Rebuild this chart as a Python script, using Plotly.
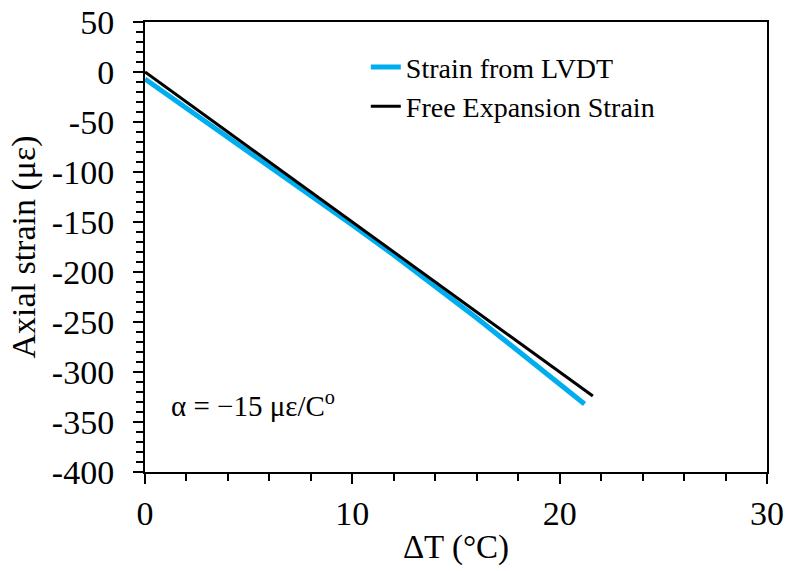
import plotly.graph_objects as go

# Strain from LVDT
lvdt_dT = [0, 2, 4, 6, 8, 10, 12, 14, 16, 18, 20, 21.2]
lvdt_strain = [-7, -36, -65, -94, -123, -153, -183, -214, -246, -279, -312, -332]

# Free expansion strain
free_dT = [0, 21.6]
free_strain = [0, -324]

x_ticks = [0, 10, 20, 30]
y_ticks = [50, 0, -50, -100, -150, -200, -250, -300, -350, -400]

FONT = "Liberation Serif"

fig = go.Figure()
fig.add_trace(go.Scatter(x=lvdt_dT, y=lvdt_strain, mode="lines",
                         name="Strain from LVDT",
                         line=dict(color="#00AEEF", width=5)))
fig.add_trace(go.Scatter(x=free_dT, y=free_strain, mode="lines",
                         name="Free Expansion Strain",
                         line=dict(color="black", width=3)))

fig.update_layout(
    width=787, height=571,
    margin=dict(l=145, r=20, t=22, b=99, autoexpand=False),
    paper_bgcolor="white", plot_bgcolor="white",
    font=dict(family=FONT, color="black", size=28),
    showlegend=True,
    legend=dict(x=0.355, y=0.955, xanchor="left", yanchor="top",
                bgcolor="rgba(0,0,0,0)", font=dict(family=FONT, size=28),
                itemwidth=30, tracegroupgap=0),
    annotations=[dict(x=1.15, y=-332, xref="x", yref="y", xanchor="left",
                      yanchor="middle", showarrow=False,
                      text="α = −15 με/C<sup>o</sup>",
                      font=dict(family=FONT, size=29))],
)

fig.update_xaxes(
    range=[0, 30], tickvals=x_ticks, ticktext=[str(v) for v in x_ticks],
    showgrid=False, zeroline=False, automargin=False,
    showline=True, linecolor="black", linewidth=2, mirror=True,
    ticks="outside", ticklen=10, tickwidth=2, tickcolor="black",
    minor=dict(dtick=2, ticks="outside", ticklen=7, tickwidth=2, tickcolor="black", showgrid=False),
    title=dict(text="ΔT (°C)", font=dict(family=FONT, size=33), standoff=4),
    tickfont=dict(family=FONT, size=34),
    ticklabelstandoff=0,
)
fig.update_yaxes(
    range=[-400, 50], tickvals=y_ticks, ticktext=[str(v) for v in y_ticks],
    showgrid=False, zeroline=False, automargin=False,
    showline=True, linecolor="black", linewidth=2, mirror=True,
    ticks="outside", ticklen=10, tickwidth=2, tickcolor="black",
    minor=dict(dtick=10, ticks="outside", ticklen=7, tickwidth=2, tickcolor="black", showgrid=False),
    title=dict(text="Axial strain (με)", font=dict(family=FONT, size=34), standoff=6),
    tickfont=dict(family=FONT, size=34),
    ticklabelstandoff=12,
)

# remove the default 8px page margin so the figure fills the window exactly
fig.write_html("out.html",
               config={"displayModeBar": False},
               post_script="document.body.style.margin='0';document.body.style.overflow='hidden';")
